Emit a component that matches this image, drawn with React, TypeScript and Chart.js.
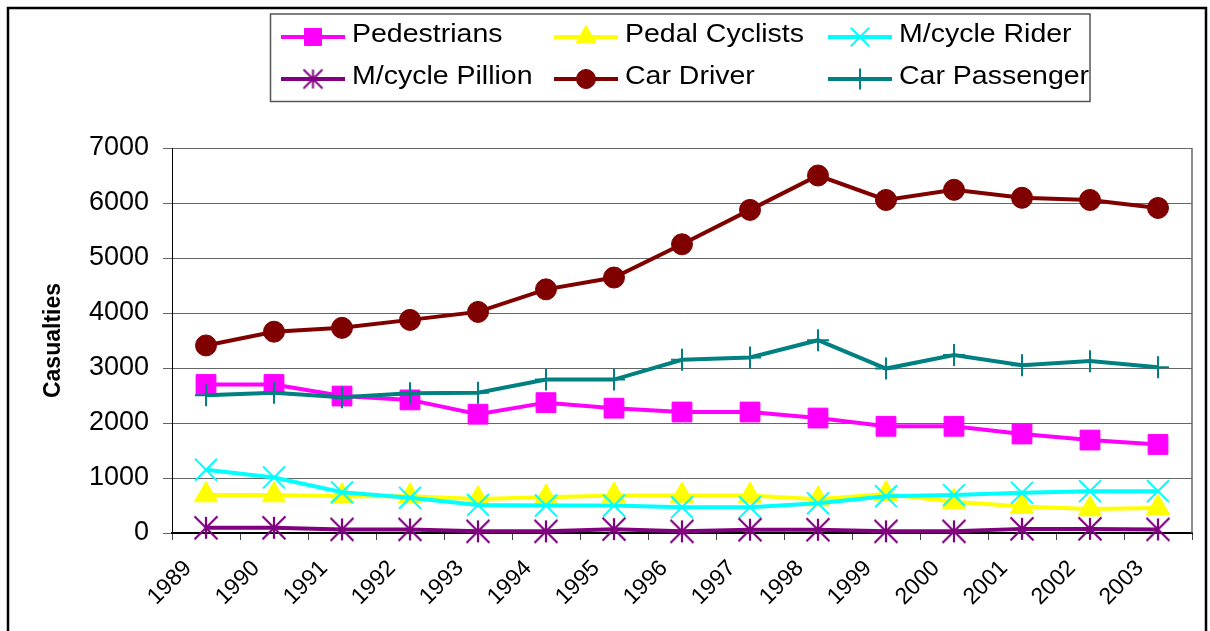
import React, { useEffect, useRef } from "react";
import { Chart, registerables } from "chart.js";
import { drawPoint } from "chart.js/helpers";

Chart.register(...registerables);

const years = ["1989", "1990", "1991", "1992", "1993", "1994", "1995", "1996", "1997", "1998", "1999", "2000", "2001", "2002", "2003"];
const pedestrians = [2700, 2700, 2490, 2420, 2160, 2370, 2270, 2200, 2200, 2090, 1940, 1940, 1800, 1690, 1610];
const pedalCyclists = [690, 690, 670, 670, 620, 650, 680, 680, 680, 615, 710, 570, 480, 435, 455];
const mcycleRider = [1150, 1010, 740, 640, 510, 500, 500, 470, 470, 540, 670, 690, 730, 760, 760];
const mcyclePillion = [95, 95, 65, 65, 30, 30, 70, 30, 60, 60, 30, 30, 75, 75, 65];
const carDriver = [3410, 3660, 3730, 3875, 4020, 4430, 4645, 5250, 5875, 6500, 6055, 6240, 6095, 6055, 5910];
const carPassenger = [2505, 2550, 2470, 2540, 2550, 2790, 2790, 3150, 3190, 3505, 2990, 3235, 3050, 3125, 3015];

const seriesNames = ["Pedestrians", "Pedal Cyclists", "M/cycle Rider", "M/cycle Pillion", "Car Driver", "Car Passenger"];
const seriesColors = ["#FF00FF", "#FFFF00", "#00FFFF", "#800080", "#800000", "#008080"];
const yMin = 0;
const yMax = 7000;
const yStep = 1000;
const yTitle = "Casualties";

const FONT = "'Liberation Sans', Arial, Helvetica, sans-serif";

function makeAsterisk(color: string, half: number, vhalf: number, lw: number) {
  const size = Math.ceil(2 * Math.max(half, vhalf) + lw + 2);
  const c = document.createElement("canvas");
  c.width = size;
  c.height = size;
  const ctx = c.getContext("2d")!;
  const m = size / 2;
  ctx.strokeStyle = color;
  ctx.lineWidth = lw;
  ctx.beginPath();
  ctx.moveTo(m - half, m - half);
  ctx.lineTo(m + half, m + half);
  ctx.moveTo(m + half, m - half);
  ctx.lineTo(m - half, m + half);
  ctx.moveTo(m, m - vhalf);
  ctx.lineTo(m, m + vhalf);
  ctx.stroke();
  return c;
}

export default function App() {
  const ref = useRef<HTMLCanvasElement>(null);

  useEffect(() => {
    const canvas = ref.current!;
    const star = makeAsterisk(seriesColors[3], 11.5, 11, 2.2);
    const starSmall = makeAsterisk(seriesColors[3], 9.5, 9.5, 2);

    const legendMarkers: any[] = [
      { pointStyle: "rect", radius: 12, borderWidth: 1 },
      { pointStyle: "triangle", radius: 11.5, borderWidth: 1 },
      { pointStyle: "crossRot", radius: 13, borderWidth: 2 },
      { pointStyle: starSmall, radius: 10, borderWidth: 0 },
      { pointStyle: "circle", radius: 9.5, borderWidth: 1 },
      { pointStyle: "cross", radius: 10.5, borderWidth: 2 },
    ];
    const legendCols = [281, 554, 828];
    const legendRows = [37, 79];

    const framePlugin = {
      id: "frame",
      beforeDraw(chart: any) {
        const ctx = chart.ctx;
        ctx.save();
        ctx.fillStyle = "#fff";
        ctx.fillRect(0, 0, chart.width, chart.height);
        ctx.restore();
      },
      beforeDatasetsDraw(chart: any) {
        const { top, right, bottom } = chart.chartArea;
        const ctx = chart.ctx;
        ctx.save();
        ctx.strokeStyle = "#666";
        ctx.lineWidth = 1.5;
        ctx.beginPath();
        ctx.moveTo(right, top);
        ctx.lineTo(right, bottom);
        ctx.stroke();
        ctx.restore();
      },
      afterDraw(chart: any) {
        const ctx = chart.ctx;
        ctx.save();
        ctx.strokeStyle = "#000";
        ctx.lineWidth = 2.5;
        ctx.strokeRect(8, 8, 1198, 700);
        ctx.strokeStyle = "#555";
        ctx.lineWidth = 1.5;
        ctx.strokeRect(270.5, 14, 819.5, 87.5);
        seriesNames.forEach((name, i) => {
          const col = i % 3;
          const row = Math.floor(i / 3);
          const x0 = legendCols[col];
          const y = legendRows[row];
          const color = seriesColors[i];
          ctx.strokeStyle = color;
          ctx.lineWidth = 4;
          ctx.beginPath();
          ctx.moveTo(x0, y);
          ctx.lineTo(x0 + 64, y);
          ctx.stroke();
          const mk = legendMarkers[i];
          ctx.fillStyle = color;
          ctx.strokeStyle = color;
          ctx.lineWidth = mk.borderWidth || 1;
          drawPoint(ctx, { pointStyle: mk.pointStyle, radius: mk.radius, borderWidth: mk.borderWidth, rotation: 0 } as any, x0 + 32, y);
          ctx.save();
          ctx.fillStyle = "#000";
          ctx.font = `25px ${FONT}`;
          ctx.textBaseline = "middle";
          ctx.textAlign = "left";
          ctx.translate(x0 + 71, y - 2);
          ctx.scale(1.14, 1);
          ctx.fillText(name, 0, 0);
          ctx.restore();
        });
        ctx.restore();
      },
    };

    const mk = (i: number, data: number[], extra: any) => ({
      label: seriesNames[i],
      data,
      borderColor: seriesColors[i],
      backgroundColor: seriesColors[i],
      pointBackgroundColor: seriesColors[i],
      pointBorderColor: seriesColors[i],
      borderWidth: 4,
      tension: 0,
      clip: false,
      order: 5 - i,
      ...extra,
    });

    const chart = new Chart(canvas, {
      type: "line",
      data: {
        labels: years,
        datasets: [
          mk(0, pedestrians, { pointStyle: "rect", pointRadius: 14, pointBorderWidth: 1 }),
          mk(1, pedalCyclists, { pointStyle: "triangle", pointRadius: 13.5, pointBorderWidth: 1 }),
          mk(2, mcycleRider, { pointStyle: "crossRot", pointRadius: 15.5, pointBorderWidth: 2 }),
          mk(3, mcyclePillion, { pointStyle: star, pointRadius: 12, pointBorderWidth: 0 }),
          mk(4, carDriver, { pointStyle: "circle", pointRadius: 10.5, pointBorderWidth: 1 }),
          mk(5, carPassenger, { pointStyle: "cross", pointRadius: 11, pointBorderWidth: 2 }),
        ] as any,
      },
      options: {
        responsive: true,
        maintainAspectRatio: false,
        animation: false,
        layout: { padding: { top: 148, right: 18, bottom: 0, left: 0 } },
        plugins: {
          legend: { display: false },
          tooltip: { enabled: false },
        },
        scales: {
          x: {
            type: "category",
            offset: true,
            afterFit: (scale: any) => {
              scale.height = 98;
            },
            grid: {
              display: true,
              drawOnChartArea: false,
              drawTicks: true,
              tickLength: 7,
              color: "#444",
              offset: true,
            },
            border: { color: "#000", width: 2 },
            ticks: {
              color: "#000",
              font: { family: FONT, size: 23 },
              maxRotation: 45,
              minRotation: 45,
              autoSkip: false,
              labelOffset: -18,
              padding: 15,
            },
          },
          y: {
            min: yMin,
            max: yMax,
            afterFit: (scale: any) => {
              scale.width = 172;
            },
            grid: {
              color: "#666",
              lineWidth: 1,
              drawTicks: true,
              tickLength: 9,
            },
            border: { color: "#000", width: 1 },
            ticks: {
              stepSize: yStep,
              color: "#000",
              font: { family: FONT, size: 27 },
              padding: 14,
              callback: (v: any) => String(v),
            },
            title: {
              display: true,
              text: yTitle,
              color: "#000",
              font: { family: FONT, size: 23, weight: "bold" },
              padding: { top: 40, bottom: 0 },
            },
          },
        },
      } as any,
      plugins: [framePlugin],
    });

    return () => chart.destroy();
  }, []);

  return (
    <div style={{ position: "fixed", left: 0, top: 0, width: 1210, height: 631, background: "#fff" }}>
      <canvas ref={ref} />
    </div>
  );
}
